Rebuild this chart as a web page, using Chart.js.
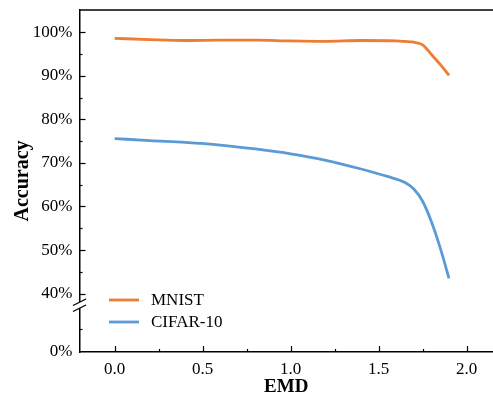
<!DOCTYPE html>
<html><head><meta charset="utf-8">
<script src="https://cdn.jsdelivr.net/npm/chart.js@4.4.1/dist/chart.umd.min.js"></script>
<style>html,body{margin:0;padding:0;background:#fff}#wrap{width:493px;height:402px}</style>
</head><body><div id="wrap"><canvas id="c" width="493" height="402"></canvas></div>
<script>
const emd = [0, 0.2, 0.4, 0.6, 0.8, 1.0, 1.2, 1.4, 1.6, 1.7, 1.75, 1.8, 1.85, 1.9];
const mnist = [98.6, 98.3, 98.1, 98.2, 98.2, 98.0, 97.9, 98.1, 98.0, 97.7, 97.1, 94.9, 92.6, 90.1];
const emdC = [0, 0.2, 0.4, 0.6, 0.8, 1.0, 1.2, 1.4, 1.55, 1.65, 1.7, 1.75, 1.8, 1.85, 1.9];
const cifar = [75.6, 75.1, 74.7, 74.1, 73.2, 72.1, 70.6, 68.6, 66.9, 65.5, 64.0, 61.2, 56.5, 50.5, 43.5];
const yTickLabels = ['0%', '40%', '50%', '60%', '70%', '80%', '90%', '100%'];
const yTickValues = [0, 40, 50, 60, 70, 80, 90, 100];
const xTicks = [0, 0.5, 1.0, 1.5, 2.0];

const ZERO_POS = 26.6; // axis position of 0% below the break
function yPos(v){ return v >= 40 ? v : ZERO_POS + v * (13.4/40); }

const FONT = "'Liberation Serif','Times New Roman',serif";

const decor = {
  id: 'decor',
  afterDraw(chart){
    const {ctx, chartArea:a, scales:{x, y}} = chart;
    ctx.save();
    ctx.strokeStyle = '#000';
    ctx.lineWidth = 1.5;
    ctx.beginPath(); ctx.moveTo(a.left, a.top); ctx.lineTo(a.right, a.top); ctx.stroke();
    ctx.lineWidth = 1.2;
    [40,50,60,70,80,90,100].forEach(v=>{
      const py = Math.round(y.getPixelForValue(yPos(v)))+0.5;
      ctx.beginPath(); ctx.moveTo(a.left, py); ctx.lineTo(a.left+6, py); ctx.stroke();
    });
    [45,55,65,75,85,95,31.8].forEach(v=>{
      const py = Math.round(y.getPixelForValue(v))+0.5;
      ctx.beginPath(); ctx.moveTo(a.left, py); ctx.lineTo(a.left+3, py); ctx.stroke();
    });
    xTicks.forEach(v=>{
      const px = Math.round(x.getPixelForValue(v))+0.5;
      ctx.beginPath(); ctx.moveTo(px, a.bottom); ctx.lineTo(px, a.bottom-6); ctx.stroke();
    });
    [0.25,0.75,1.25,1.75].forEach(v=>{
      const px = Math.round(x.getPixelForValue(v))+0.5;
      ctx.beginPath(); ctx.moveTo(px, a.bottom); ctx.lineTo(px, a.bottom-3); ctx.stroke();
    });
    const by = 305;
    ctx.fillStyle = '#fff';
    ctx.fillRect(a.left-2, by-3, 4, 6);
    ctx.lineWidth = 1.3;
    ctx.beginPath(); ctx.moveTo(a.left-6.5, by+0.5); ctx.lineTo(a.left+6.5, by-6); ctx.stroke();
    ctx.beginPath(); ctx.moveTo(a.left-6.5, by+6.5); ctx.lineTo(a.left+6.5, by); ctx.stroke();
    ctx.font = '17px ' + FONT;
    ctx.textBaseline = 'middle';
    ctx.textAlign = 'left';
    chart.data.datasets.forEach((ds, i)=>{
      const ly = 300 + i*22;
      ctx.strokeStyle = ds.borderColor; ctx.lineWidth = 2.8;
      ctx.beginPath(); ctx.moveTo(109, ly); ctx.lineTo(139, ly); ctx.stroke();
      ctx.fillStyle = '#000';
      ctx.fillText(ds.label, 151, ly+1);
    });
    ctx.restore();
  }
};

new Chart(document.getElementById('c'), {
  type: 'line',
  data: {
    datasets: [
      {label: 'MNIST', data: emd.map((e,i)=>({x:e, y:yPos(mnist[i])})), borderColor: '#ED7D31', borderWidth: 2.8, pointRadius: 0, cubicInterpolationMode: 'monotone', fill:false},
      {label: 'CIFAR-10', data: emdC.map((e,i)=>({x:e, y:yPos(cifar[i])})), borderColor: '#5B9BD5', borderWidth: 2.8, pointRadius: 0, cubicInterpolationMode: 'monotone', fill:false}
    ]
  },
  options: {
    responsive: false, animation: false,
    layout: {padding: {top: 10, right: 0, left: 0, bottom: 0}},
    plugins: {legend: {display: false}, tooltip: {enabled: false}},
    scales: {
      x: {
        type: 'linear', min: -0.2, max: 2.15,
        afterFit(s){ s.height = 50; s.paddingLeft = 0; s.paddingRight = 0; },
        afterBuildTicks(s){ s.ticks = xTicks.map(v=>({value:v})); },
        grid: {display: false, drawTicks: false},
        border: {display: true, color: '#000', width: 1.5},
        ticks: {color: '#000', font: {family: FONT, size: 17}, padding: 7, callback: v => v.toFixed(1), maxRotation: 0},
        title: {display: true, text: 'EMD', color: '#000', font: {family: FONT, size: 19, weight: 'bold'}, padding: {top: 3}}
      },
      y: {
        type: 'linear', min: ZERO_POS, max: 105.1,
        afterFit(s){ s.width = 79.5; s.paddingTop = 0; s.paddingBottom = 0; },
        afterBuildTicks(s){ s.ticks = yTickValues.map(v=>({value:yPos(v)})); },
        grid: {display: false, drawTicks: false},
        border: {display: true, color: '#000', width: 1.5},
        ticks: {color: '#000', font: {family: FONT, size: 17}, padding: 7,
          callback: (v) => { const i = yTickValues.findIndex(t => Math.abs(yPos(t)-v) < 0.01); return i>=0 ? yTickLabels[i] : ''; }},
        title: {display: true, text: 'Accuracy', color: '#000', font: {family: FONT, size: 20, weight: 'bold'}, padding: {top: 11, bottom: 0}}
      }
    }
  },
  plugins: [decor]
});
</script></body></html>
